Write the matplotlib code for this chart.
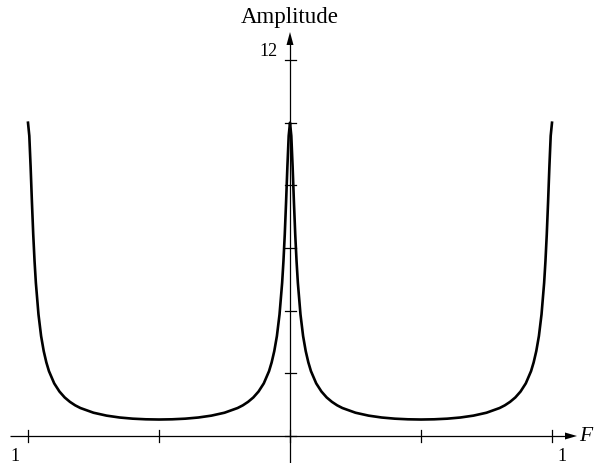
import matplotlib
matplotlib.use("Agg")
import matplotlib.pyplot as plt

# Data (frequency F, amplitude)
freq = [-1.0, -0.995, -0.99, -0.985, -0.98, -0.975, -0.97, -0.96, -0.95, -0.94, -0.93, -0.92,
        -0.90, -0.88, -0.86, -0.84, -0.82, -0.80, -0.75, -0.70, -0.65, -0.60, -0.55, -0.50,
        -0.45, -0.40, -0.35, -0.30, -0.25, -0.20, -0.18, -0.16, -0.14, -0.12, -0.10,
        -0.08, -0.07, -0.06, -0.05, -0.04, -0.03, -0.025, -0.02, -0.015, -0.01, -0.005, 0.0,
        0.005, 0.01, 0.015, 0.02, 0.025, 0.03, 0.04, 0.05, 0.06, 0.07, 0.08,
        0.10, 0.12, 0.14, 0.16, 0.18, 0.20, 0.25, 0.30, 0.35, 0.40, 0.45, 0.50,
        0.55, 0.60, 0.65, 0.70, 0.75, 0.80, 0.82, 0.84, 0.86, 0.88, 0.90,
        0.92, 0.93, 0.94, 0.95, 0.96, 0.97, 0.975, 0.98, 0.985, 0.99, 0.995, 1.0]
amp = [10.0, 9.58, 8.59, 7.46, 6.43, 5.58, 4.89, 3.88, 3.19, 2.71, 2.35, 2.07,
       1.68, 1.42, 1.23, 1.09, 0.979, 0.893, 0.743, 0.650, 0.590, 0.553, 0.533, 0.526,
       0.533, 0.553, 0.590, 0.650, 0.743, 0.893, 0.979, 1.09, 1.23, 1.42, 1.68,
       2.07, 2.35, 2.71, 3.19, 3.88, 4.89, 5.58, 6.43, 7.46, 8.59, 9.58, 10.0,
       9.58, 8.59, 7.46, 6.43, 5.58, 4.89, 3.88, 3.19, 2.71, 2.35, 2.07,
       1.68, 1.42, 1.23, 1.09, 0.979, 0.893, 0.743, 0.650, 0.590, 0.553, 0.533, 0.526,
       0.533, 0.553, 0.590, 0.650, 0.743, 0.893, 0.979, 1.09, 1.23, 1.42, 1.68,
       2.07, 2.35, 2.71, 3.19, 3.88, 4.89, 5.58, 6.43, 7.46, 8.59, 9.58, 10.0]
x_ticks = [-1.0, -0.5, 0.0, 0.5, 1.0]
y_ticks = [0, 2, 4, 6, 8, 10, 12]
x_tick_labels = {-1.0: "1", 1.0: "1"}
y_tick_labels = {12: "12"}
x_label = "F"
y_label = "Amplitude"

W, H = 594, 464
fig = plt.figure(figsize=(W / 100, H / 100), dpi=100)
ax = fig.add_axes([0, 0, 1, 1])
ax.set_axis_off()

# pixel mapping: F=0 at px 290, 262 px per unit; A=0 at px 437, 31.33 px per unit
px_x0, sx = 290.0, 262.0
px_y0, sy = 437.0, 31.33
def dx(p):
    return (p - px_x0) / sx
def dy(p):
    return (px_y0 - p) / sy

ax.set_xlim(dx(0), dx(W))
ax.set_ylim(dy(H), dy(0))

serif = ["Liberation Serif", "DejaVu Serif"]
lc = "black"

# axes lines
ax.plot([dx(10), dx(567)], [0, 0], color=lc, lw=0.9, solid_capstyle="butt")
ax.plot([0, 0], [dy(H), dy(44)], color=lc, lw=0.9, solid_capstyle="butt")
# arrow heads
ax.fill([dx(577), dx(565), dx(565)], [0, dy(437 - 3.5), dy(437 + 3.5)], color=lc, lw=0)
ax.fill([0, dx(290 - 3.5), dx(290 + 3.5)], [dy(33), dy(46), dy(46)], color=lc, lw=0)

# ticks
for t in x_ticks:
    ax.plot([t, t], [dy(431), dy(443)], color=lc, lw=0.9)
for t in y_ticks:
    ax.plot([dx(284.5), dx(295.5)], [t, t], color=lc, lw=0.9)

# tick labels
ax.text(dx(15), dy(457), x_tick_labels[-1.0], ha="center", va="center",
        fontsize=13, family=serif)
ax.text(dx(562), dy(457), x_tick_labels[1.0], ha="center", va="center",
        fontsize=13, family=serif)
ax.text(dx(268), dy(51), y_tick_labels[12], ha="center", va="center",
        fontsize=13, family=serif)

# axis labels
ax.text(0, dy(18), y_label, ha="center", va="center", fontsize=16.5, family=serif)
ax.text(dx(579), 0, x_label, ha="left", va="center", fontsize=15.5,
        family=serif, style="italic")

# curve
ax.plot(freq, amp, color=lc, lw=1.9, solid_joinstyle="round")

fig.savefig("out.png", dpi=100)
